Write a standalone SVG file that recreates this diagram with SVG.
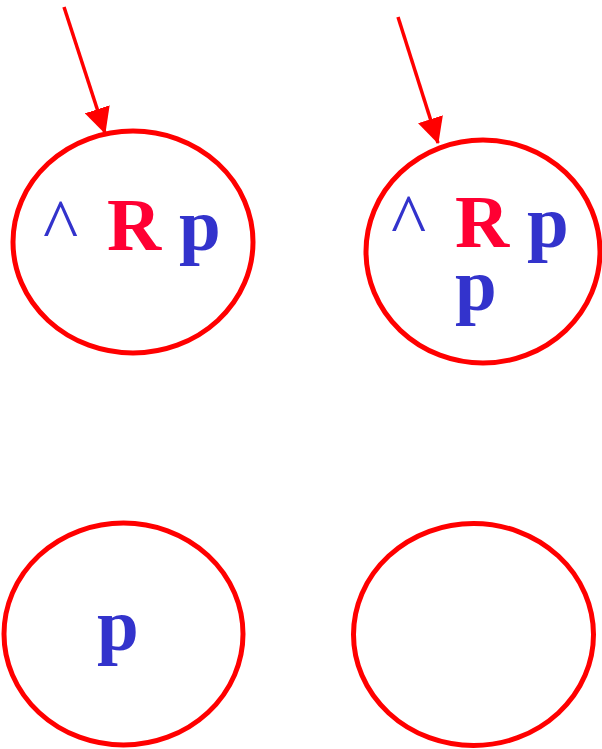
<svg xmlns="http://www.w3.org/2000/svg" width="602" height="749" viewBox="0 0 602 749">
<style>
.node{fill:none;stroke:#FF0000;stroke-width:5}
.conn{stroke:#FF0000;stroke-width:3.5;fill:none}
.t{font-family:"Liberation Serif","Times New Roman",serif;font-size:75px}
.b{font-weight:bold}
.blue{fill:#3333CC}
.red{fill:#FF0033}
</style>
<defs>
<marker id="ah" markerUnits="userSpaceOnUse" markerWidth="26" markerHeight="26" viewBox="0 0 24 24" refX="23" refY="12" orient="auto">
<path d="M0,0 L24,12 L0,24 Z" fill="#FF0000"/>
</marker>
</defs>
<g id="connectors">
<line class="conn" x1="64" y1="7" x2="105" y2="133" marker-end="url(#ah)"/>
<line class="conn" x1="398" y1="17" x2="438" y2="143" marker-end="url(#ah)"/>
</g>
<g id="node1">
<ellipse class="node" cx="133" cy="242" rx="120" ry="111"/>
<text class="t blue" x="43" y="250">^</text>
<text class="t b red" x="107" y="250">R</text>
<text class="t b blue" x="179" y="250">p</text>
</g>
<g id="node2">
<ellipse class="node" cx="483" cy="251.5" rx="117" ry="111.5"/>
<text class="t blue" x="391" y="245">^</text>
<text class="t b red" x="455" y="247">R</text>
<text class="t b blue" x="527" y="247">p</text>
<text class="t b blue" x="455" y="310">p</text>
</g>
<g id="node3">
<ellipse class="node" cx="123.5" cy="634" rx="119.5" ry="111"/>
<text class="t b blue" x="97" y="650">p</text>
</g>
<g id="node4">
<ellipse class="node" cx="473.5" cy="634.5" rx="120" ry="111"/>
</g>
</svg>
